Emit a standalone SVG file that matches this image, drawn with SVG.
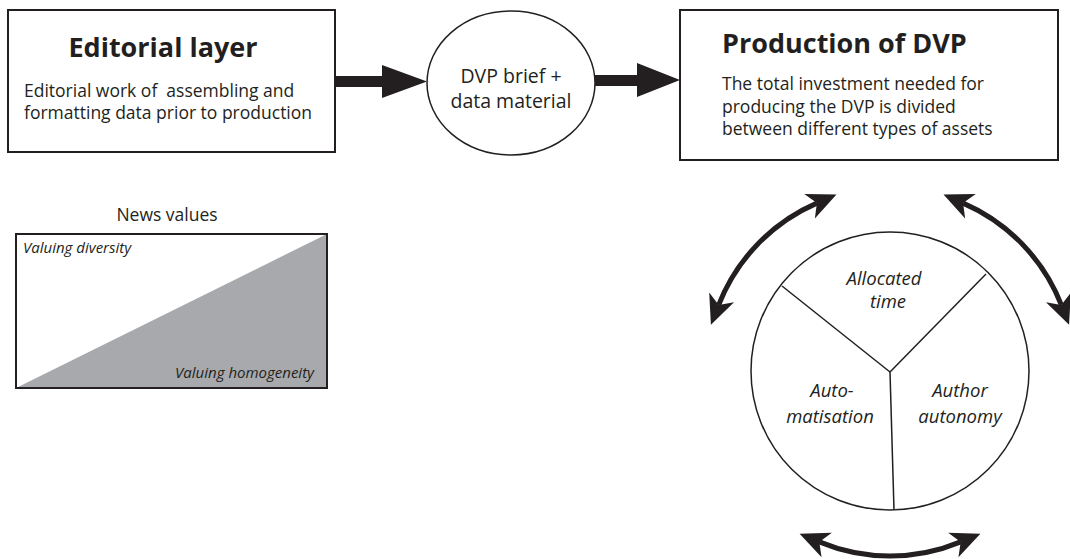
<svg xmlns="http://www.w3.org/2000/svg" width="1070" height="559" viewBox="0 0 1070 559">
  <style>
    text { font-family: "Open Sans", "Noto Sans", "Liberation Sans", sans-serif; fill: #231f20; white-space: pre; }
    .box { fill: #ffffff; stroke: #231f20; stroke-width: 2; }
    .title { font-size: 27px; font-weight: bold; }
    .body { font-size: 17.5px; }
    .ital { font-style: italic; }
    .pie { font-size: 18.5px; font-style: italic; }
    .thin { fill: none; stroke: #231f20; stroke-width: 1.5; }
    .arc { fill: none; stroke: #231f20; stroke-width: 5; marker-start: url(#stealth); marker-end: url(#stealth); }
    .flow { fill: #231f20; }
  </style>
  <defs>
    <marker id="stealth" markerUnits="userSpaceOnUse" markerWidth="40" markerHeight="40" viewBox="-10 -15 30 30" refX="0" refY="0" orient="auto-start-reverse">
      <path d="M16,0 L-6,-10 L0,0 L-6,10 Z" fill="#231f20"/>
    </marker>
  </defs>

  <!-- Editorial layer -->
  <g id="editorial">
    <rect class="box" x="8" y="10" width="327" height="142"/>
    <text class="title" x="163" y="57" text-anchor="middle">Editorial layer</text>
    <text class="body" x="24" y="97" xml:space="preserve">Editorial work of  assembling and</text>
    <text class="body" x="24" y="119">formatting data prior to production</text>
  </g>

  <!-- DVP brief ellipse -->
  <g id="brief">
    <ellipse class="thin" cx="511" cy="83" rx="84" ry="72" fill="#ffffff"/>
    <text x="511" y="83" text-anchor="middle" style="font-size:19.5px">DVP brief +</text>
    <text x="511" y="108" text-anchor="middle" style="font-size:19.5px">data material</text>
  </g>

  <!-- Production of DVP -->
  <g id="production">
    <rect class="box" x="680" y="10" width="378" height="150"/>
    <text class="title" x="722" y="53">Production of DVP</text>
    <text class="body" x="722" y="90">The total investment needed for</text>
    <text class="body" x="722" y="113">producing the DVP is divided</text>
    <text class="body" x="722" y="135">between different types of assets</text>
  </g>

  <!-- News values scale -->
  <g id="news-values">
    <text x="167" y="221" text-anchor="middle" style="font-size:17.5px">News values</text>
    <rect x="16" y="234" width="311" height="154" fill="#ffffff" stroke="none"/>
    <polygon points="16,388 327,234 327,388" fill="#a7a9ac"/>
    <rect x="16" y="234" width="311" height="154" fill="none" stroke="#231f20" stroke-width="2"/>
    <text class="ital" x="23" y="253" style="font-size:15px">Valuing diversity</text>
    <text class="ital" x="314" y="378" text-anchor="end" style="font-size:15px">Valuing homogeneity</text>
  </g>

  <!-- Asset pie -->
  <g id="assets">
    <circle class="thin" cx="890" cy="371" r="139" fill="#ffffff"/>
    <line class="thin" x1="890" y1="372" x2="782" y2="286"/>
    <line class="thin" x1="890" y1="372" x2="986" y2="274"/>
    <line class="thin" x1="890" y1="372" x2="894" y2="510"/>
    <text class="pie" x="884" y="285" text-anchor="middle">Allocated</text>
    <text class="pie" x="888" y="308" text-anchor="middle">time</text>
    <text class="pie" x="832" y="397" text-anchor="middle">Auto-</text>
    <text class="pie" x="830" y="423" text-anchor="middle">matisation</text>
    <text class="pie" x="960" y="397" text-anchor="middle">Author</text>
    <text class="pie" x="960" y="423" text-anchor="middle">autonomy</text>
  </g>

  <!-- Connectors -->
  <g id="connectors">
    <path class="flow" d="M335,76 L382,76 L382,65 L427,81.5 L382,98 L382,87 L335,87 Z"/>
    <path class="flow" d="M595,75 L637,75 L637,63 L680,80 L637,97 L637,86 L595,86 Z"/>
    <path class="arc" d="M718.7,304.9 A184,184 0 0 1 816.9,203.1"/>
    <path class="arc" d="M963.1,203.1 A184,184 0 0 1 1061.3,304.9"/>
    <path class="arc" d="M960.7,541.9 A184,184 0 0 1 819.3,541.9"/>
  </g>
</svg>
